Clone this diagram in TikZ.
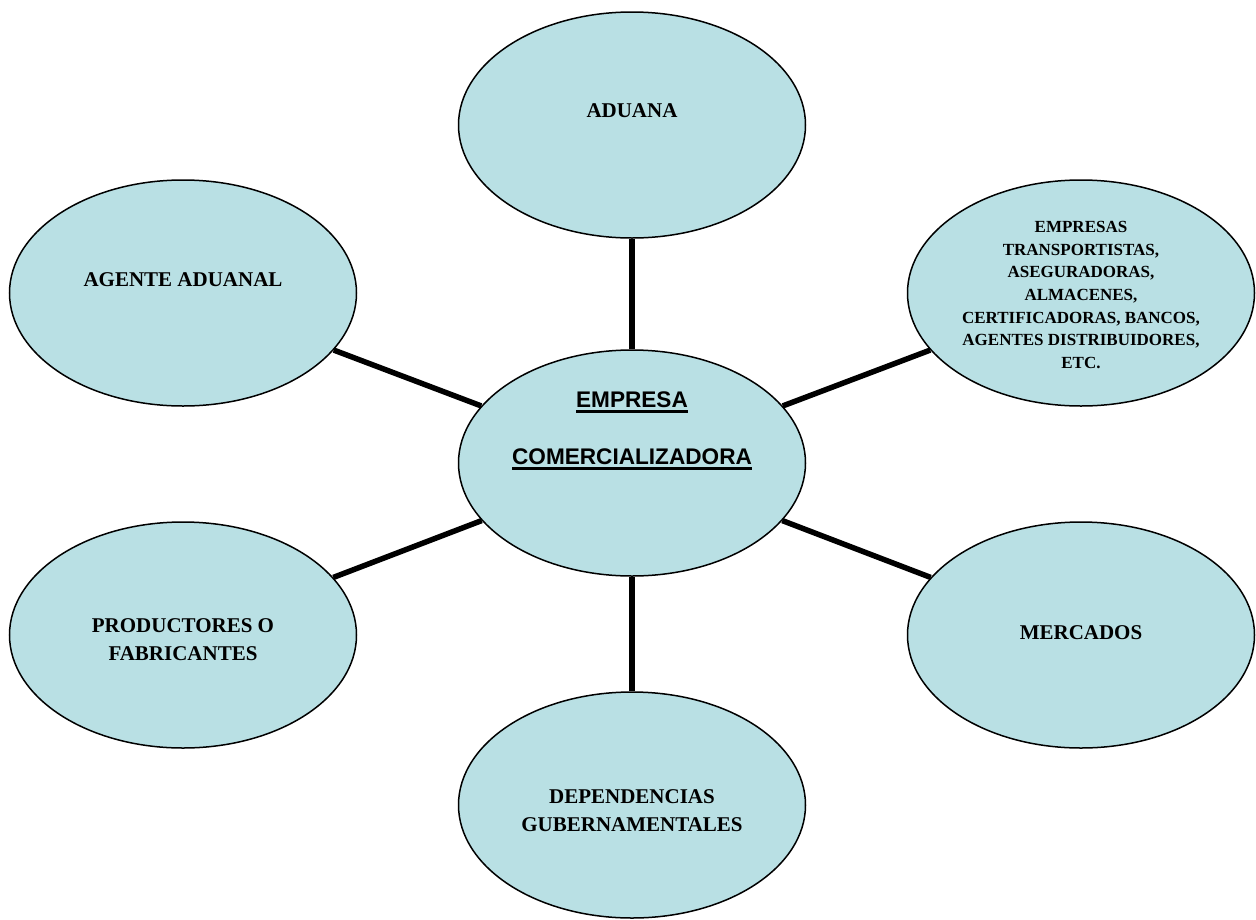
\documentclass[tikz,border=0pt]{standalone}
\usepackage{fontspec}
\setmainfont{Liberation Serif}
\setsansfont{Liberation Sans}
\usetikzlibrary{positioning,shapes.geometric}

\definecolor{celeste}{RGB}{185,224,228}

\newcommand{\subraya}[1]{\setbox0=\hbox{#1}\rlap{\rule[-5pt]{\wd0}{2.5pt}}\box0}

\tikzstyle{bubble} = [draw, ellipse, fill=celeste, line width=1.5pt,
    minimum width=347pt, minimum height=226pt, inner sep=0pt]
\tikzstyle{txt} = [font=\bfseries\fontsize{21}{28}\selectfont, align=center]
\tikzstyle{small} = [font=\bfseries\fontsize{17}{22.7}\selectfont]
\tikzstyle{big} = [font=\sffamily\bfseries\fontsize{22.6}{57}\selectfont]
\tikzstyle{link} = [draw, line width=5.5pt]

\begin{document}
\begin{tikzpicture}[auto, node distance=340pt, on grid]
    \useasboundingbox (0,0) rectangle (1256pt,-919pt);
    % bubbles
    \node [bubble] (empresa) at (632pt,-463pt) {};
    \node [bubble, above=338pt of empresa] (aduana) {};
    \node [bubble, below=342pt of empresa] (dependencias) {};
    \node [bubble, above left=170pt and 449pt of empresa] (agente) {};
    \node [bubble, above right=170pt and 449pt of empresa] (empresas) {};
    \node [bubble, below left=172pt and 449pt of empresa] (productores) {};
    \node [bubble, below right=172pt and 449pt of empresa] (mercados) {};
    % texts
    \node [txt, big] (empresa-t) at ([yshift=32pt]empresa.center)
        {\subraya{EMPRESA}\\\subraya{COMERCIALIZADORA}};
    \node [txt] (aduana-t) at ([yshift=14.5pt]aduana.center) {ADUANA};
    \node [txt] (agente-t) at ([yshift=13pt]agente.center) {AGENTE ADUANAL};
    \node [txt, small] (empresas-t) at ([yshift=-2pt]empresas.center)
        {EMPRESAS\\TRANSPORTISTAS,\\ASEGURADORAS,\\ALMACENES,\\CERTIFICADORAS, BANCOS,\\AGENTES DISTRIBUIDORES,\\ETC.};
    \node [txt] (productores-t) at ([yshift=-5pt]productores.center) {PRODUCTORES O\\FABRICANTES};
    \node [txt] (mercados-t) at ([yshift=2pt]mercados.center) {MERCADOS};
    \node [txt] (dependencias-t) at ([yshift=-6pt]dependencias.center) {DEPENDENCIAS\\GUBERNAMENTALES};
    % links
    \draw [link] (empresa) -- (aduana);
    \draw [link] (empresa) -- (dependencias);
    \draw [link] (empresa) -- (agente);
    \draw [link] (empresa) -- (empresas);
    \draw [link] (empresa) -- (productores);
    \draw [link] (empresa) -- (mercados);
\end{tikzpicture}
\end{document}
